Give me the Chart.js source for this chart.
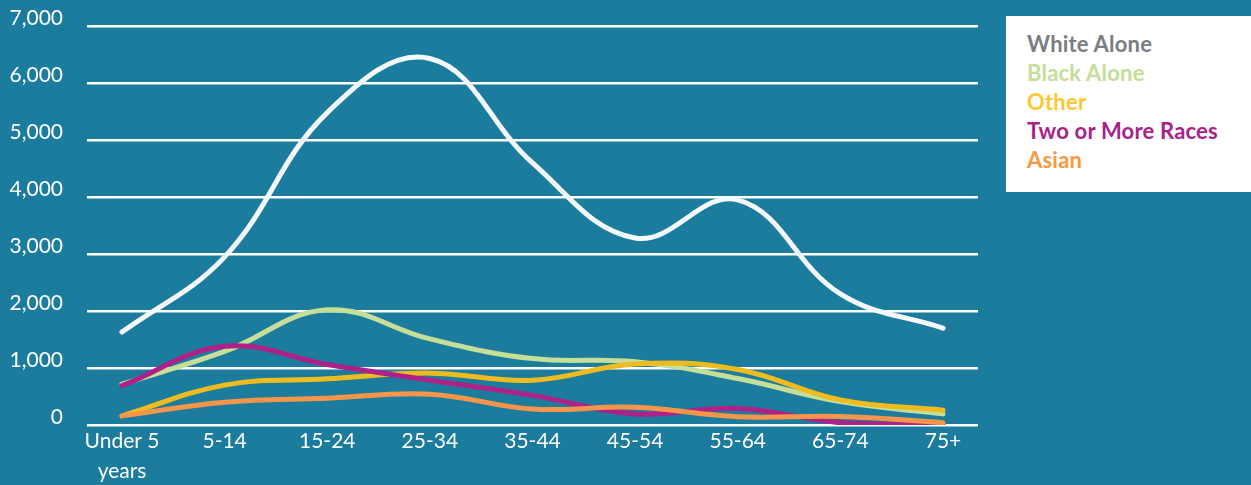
<!DOCTYPE html>
<html>
<head>
<meta charset="utf-8">
<script src="https://cdn.jsdelivr.net/npm/chart.js@4.4.1/dist/chart.umd.min.js"></script>
<style>
  html, body { margin: 0; padding: 0; background: #1b7c9d; }
  #wrap { position: relative; width: 1251px; height: 485px; overflow: hidden; }
  #chart { position: absolute; left: 0; top: 0; }
  #legend {
    position: absolute; left: 1006px; top: 16px; width: 245px; height: 176px;
    background: #ffffff; box-sizing: border-box; padding: 13px 0 0 21px;
    font-family: Lato, "Open Sans", sans-serif; font-weight: 700; font-size: 22px; line-height: 29px;
    letter-spacing: 0.2px;
  }
  #legend div { white-space: nowrap; }
</style>
</head>
<body>
<div id="wrap">
  <canvas id="chart" width="1251" height="485"></canvas>
  <div id="legend"></div>
</div>
<script>
// Age groups along the x axis
const ageGroups = ['Under 5 years', '5-14', '15-24', '25-34', '35-44', '45-54', '55-64', '65-74', '75+'];
const xTickLabels = [['Under 5', 'years'], '5-14', '15-24', '25-34', '35-44', '45-54', '55-64', '65-74', '75+'];
const yTickValues = [0, 1000, 2000, 3000, 4000, 5000, 6000, 7000];

// Population by race, per age group
const whiteAlone = [1630, 2950, 5480, 6430, 4600, 3280, 3950, 2300, 1700];
const blackAlone = [715, 1290, 2020, 1510, 1165, 1110, 815, 410, 195];
const other      = [160, 700, 810, 910, 785, 1070, 975, 440, 260];
const twoOrMore  = [690, 1380, 1060, 785, 520, 195, 290, 40, 10];
const asian      = [160, 400, 470, 540, 280, 310, 145, 150, 40];

const seriesNames  = ['White Alone', 'Black Alone', 'Other', 'Two or More Races', 'Asian'];
const seriesValues = [whiteAlone, blackAlone, other, twoOrMore, asian];
const lineColors   = ['#f3f9fc', '#c6df98', '#f0bb1e', '#ae2189', '#f7964a'];
const legendColors = ['#7b7d80', '#c4de98', '#fdc82f', '#a8228a', '#f7993d'];
const drawOrder    = [0, 4, 3, 2, 1];

// Legend box
const legendEl = document.getElementById('legend');
seriesNames.forEach((name, i) => {
  const d = document.createElement('div');
  d.textContent = name;
  d.style.color = legendColors[i];
  legendEl.appendChild(d);
});

const datasets = seriesNames.map((name, i) => ({
  label: name,
  data: seriesValues[i].map((v, j) => ({ x: j, y: v })),
  borderColor: lineColors[i],
  backgroundColor: lineColors[i],
  borderWidth: 5,
  borderCapStyle: 'round',
  pointRadius: 0,
  tension: 0.4,
  fill: false,
  order: drawOrder[i]
}));

const tickFont = { family: 'Lato, "Open Sans", sans-serif', size: 21, lineHeight: 1.4 };

new Chart(document.getElementById('chart'), {
  type: 'line',
  data: { datasets },
  options: {
    responsive: false,
    animation: false,
    layout: { padding: { left: 0, right: 273, top: 26, bottom: 0 } },
    plugins: { legend: { display: false }, tooltip: { enabled: false } },
    scales: {
      x: {
        type: 'linear',
        min: -0.341,
        max: ageGroups.length - 1 + 0.341,
        afterBuildTicks: (s) => { s.ticks = ageGroups.map((_, i) => ({ value: i })); },
        afterFit: (s) => { s.height = 60; },
        grid: { display: false, drawTicks: false },
        border: { display: false },
        ticks: {
          autoSkip: false, maxRotation: 0, minRotation: 0,
          color: '#ffffff', font: tickFont, padding: 2,
          callback: (v) => xTickLabels[v]
        }
      },
      y: {
        min: yTickValues[0],
        max: yTickValues[yTickValues.length - 1],
        afterBuildTicks: (s) => { s.ticks = yTickValues.map(v => ({ value: v })); },
        // fixed axis width; tick labels sit above their lines, so no extra end padding
        afterFit: (s) => { s.width = 87; s.paddingTop = 0; s.paddingBottom = 0; },
        grid: { color: '#ffffff', lineWidth: 2.5, drawTicks: false },
        border: { display: false },
        ticks: {
          color: '#ffffff', font: { family: tickFont.family, size: 21 }, padding: 24, labelOffset: -8,
          callback: (v) => v.toLocaleString('en-US')
        }
      }
    }
  }
});
</script>
</body>
</html>
